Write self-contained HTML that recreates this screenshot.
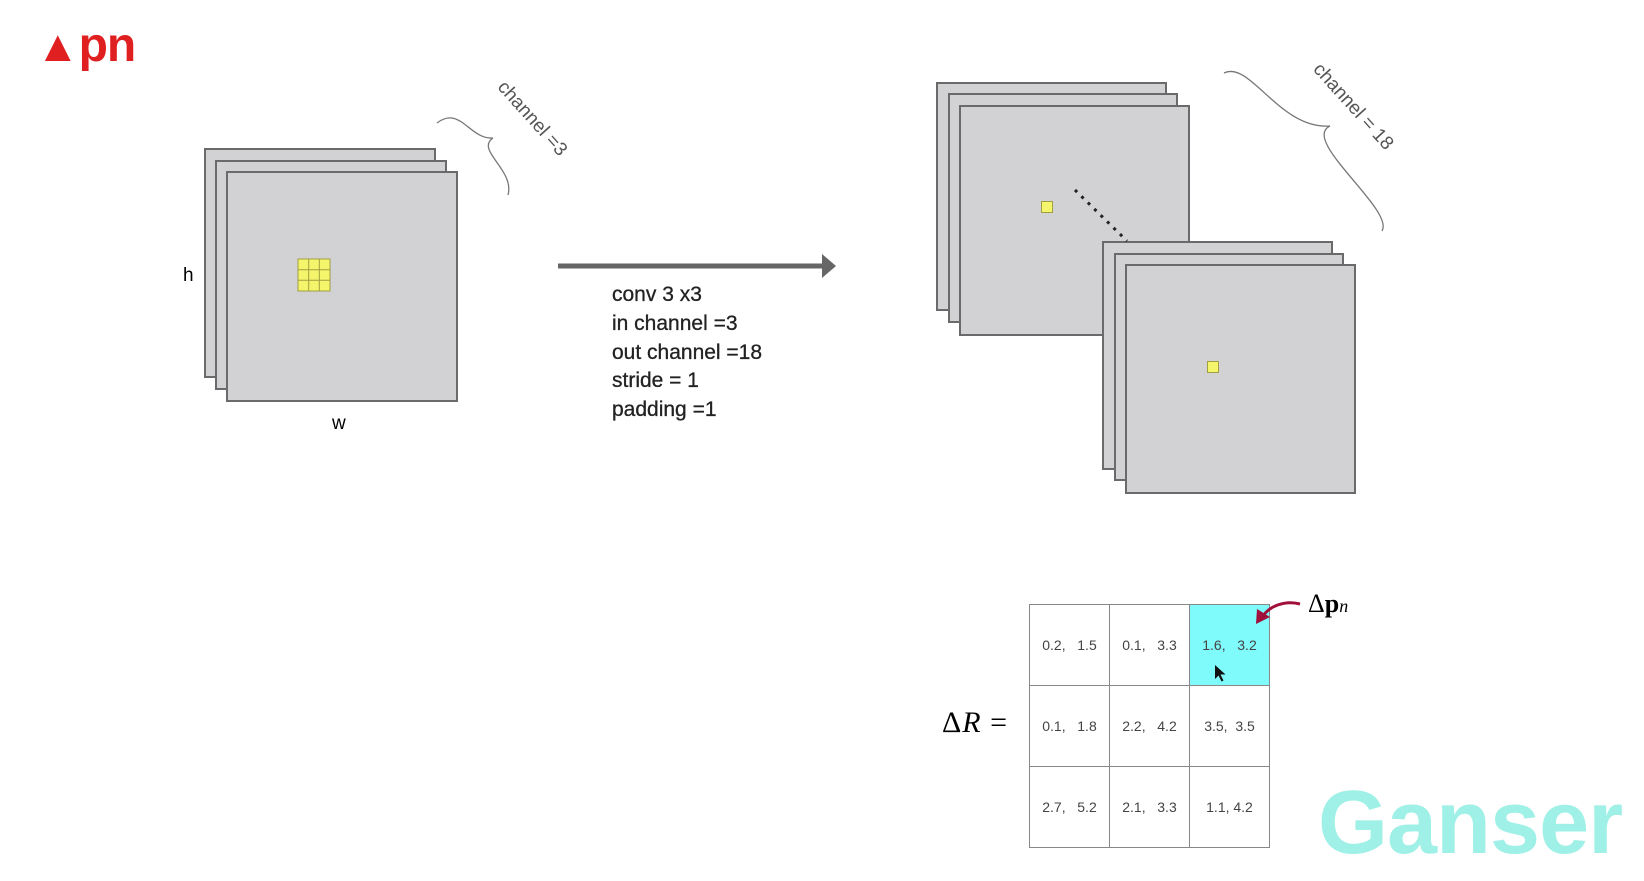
<!DOCTYPE html>
<html><head><meta charset="utf-8"><style>
body{margin:0;width:1644px;height:881px;background:#fff;overflow:hidden;position:relative;font-family:"Liberation Sans",sans-serif}
.r{position:absolute;background:#d2d1d3;border:2px solid #6a6a6a;box-sizing:border-box}
.t{position:absolute;white-space:nowrap}
</style></head><body>
<div class="t" style="left:36px;top:18px;font-size:48px;font-weight:bold;color:#e02020;letter-spacing:-1px"><span style="font-size:44px">▲</span>pn</div>

<div class="r" style="left:204px;top:148px;width:232px;height:230px"></div>
<div class="r" style="left:215px;top:160px;width:232px;height:230px"></div>
<div class="r" style="left:226px;top:171px;width:232px;height:231px"></div>
<svg style="position:absolute;left:297px;top:258px" width="34" height="34"><rect x="1" y="1" width="32" height="32" fill="#f4f56a" stroke="#a0a040"/><path d="M11.7 1V33M22.3 1V33M1 11.7H33M1 22.3H33" stroke="#a0a040"/></svg>
<div class="t" style="left:183px;top:265px;font-size:19px">h</div>
<div class="t" style="left:332px;top:413px;font-size:19px">w</div>

<div class="t" style="left:485px;top:108px;font-size:19px;color:#555;transform:rotate(48deg);transform-origin:center">channel =3</div>
<div class="t" style="left:1298px;top:96px;font-size:19px;color:#555;transform:rotate(48deg);transform-origin:center">channel = 18</div>

<div class="t" style="left:612px;top:281px;font-size:21px;line-height:28.8px;color:#222;-webkit-text-stroke:0.3px #222">conv 3 x3<br>in channel =3<br>out channel =18<br>stride = 1<br>padding =1</div>

<div class="r" style="left:936px;top:82px;width:231px;height:229px"></div>
<div class="r" style="left:948px;top:93px;width:230px;height:230px"></div>
<div class="r" style="left:959px;top:105px;width:231px;height:231px"></div>
<div style="position:absolute;left:1041px;top:201px;width:10px;height:10px;background:#f4f56a;border:1px solid #a0a040"></div>
<div class="r" style="left:1102px;top:241px;width:231px;height:229px"></div>
<div class="r" style="left:1114px;top:253px;width:230px;height:228px"></div>
<div class="r" style="left:1125px;top:264px;width:231px;height:230px"></div>
<div style="position:absolute;left:1207px;top:361px;width:10px;height:10px;background:#f4f56a;border:1px solid #a0a040"></div>

<div class="t" style="left:942px;top:706px;font-size:30px;font-family:'Liberation Serif',serif;letter-spacing:1px">Δ<i>R</i> =</div>
<div class="t" style="left:1308px;top:589px;font-size:26px;font-family:'Liberation Serif',serif">Δ<b>p</b><i style="font-size:18px">n</i></div>
<table style="position:absolute;left:1029px;top:604px;border-collapse:collapse;font-size:14px;color:#444">
<tr style="height:81px"><td style="width:77px;border:1.5px solid #888;text-align:center">0.2,&nbsp;&nbsp; 1.5</td><td style="width:77px;border:1.5px solid #888;text-align:center">0.1,&nbsp;&nbsp; 3.3</td><td style="width:77px;border:1.5px solid #888;text-align:center;background:#80fbfb">1.6,&nbsp;&nbsp; 3.2</td></tr>
<tr style="height:81px"><td style="border:1.5px solid #888;text-align:center">0.1,&nbsp;&nbsp; 1.8</td><td style="border:1.5px solid #888;text-align:center">2.2,&nbsp;&nbsp; 4.2</td><td style="border:1.5px solid #888;text-align:center">3.5,&nbsp; 3.5</td></tr>
<tr style="height:81px"><td style="border:1.5px solid #888;text-align:center">2.7,&nbsp;&nbsp; 5.2</td><td style="border:1.5px solid #888;text-align:center">2.1,&nbsp;&nbsp; 3.3</td><td style="border:1.5px solid #888;text-align:center">1.1, 4.2</td></tr>
</table>

<svg style="position:absolute;left:0;top:0" width="1644" height="881">
<path d="M437 123 C460 105,470 140,493 138 M493 138 C475 150,515 170,508 195" fill="none" stroke="#777" stroke-width="1.3"/>
<path d="M1224 73 C1250 60,1280 130,1330 126 M1330 126 C1300 140,1395 210,1382 231" fill="none" stroke="#777" stroke-width="1.3"/>
<line x1="558" y1="266" x2="826" y2="266" stroke="#666" stroke-width="5"/>
<polygon points="822,254 836,266 822,278" fill="#666"/>
<line x1="1075" y1="190" x2="1127" y2="241" stroke="#222" stroke-width="3" stroke-dasharray="3,6"/>
<path d="M1300 604 C1285 600,1268 606,1262 618" fill="none" stroke="#a0103a" stroke-width="3"/>
<polygon points="1256,624 1257,609 1270,617" fill="#a0103a"/>
<path d="M1215 665 l0 14 l3.5 -3.5 l3 6 l2 -1 l-3 -6 l5 0 z" fill="#111"/>
</svg>
<div class="t" style="left:1318px;top:772px;font-size:90px;font-weight:bold;color:#9ff0e6;letter-spacing:-1px">Ganser</div>
</body></html>
